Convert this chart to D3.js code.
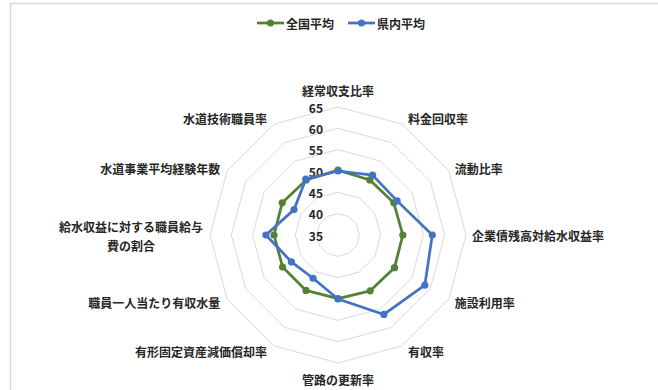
<!DOCTYPE html>
<html>
<head>
<meta charset="utf-8">
<script src="https://cdn.jsdelivr.net/npm/d3@7"></script>
<style>
  html, body { margin: 0; padding: 0; background: #fff; }
  svg { display: block; }
  text { font-family: "Noto Sans CJK JP", "Noto Sans", sans-serif; }
</style>
</head>
<body>
<svg id="chart" width="658" height="390"></svg>
<script>
// ---- data ----
const categories = [
  "経常収支比率", "料金回収率", "流動比率", "企業債残高対給水収益率",
  "施設利用率", "有収率", "管路の更新率", "有形固定資産減価償却率",
  "職員一人当たり有収水量", "給水収益に対する職員給与費の割合",
  "水道事業平均経験年数", "水道技術職員率"
];
const categoryLines = [
  ["経常収支比率"], ["料金回収率"], ["流動比率"], ["企業債残高対給水収益率"],
  ["施設利用率"], ["有収率"], ["管路の更新率"], ["有形固定資産減価償却率"],
  ["職員一人当たり有収水量"], ["給水収益に対する職員給与", "費の割合"],
  ["水道事業平均経験年数"], ["水道技術職員率"]
];
const seriesNames = ["全国平均", "県内平均"];
const nationalAvg = [50.2, 49.9, 50.1, 50.2, 50.3, 50.1, 49.9, 50.0, 50.0, 50.0, 50.1, 49.9];
const prefAvg     = [50.0, 51.2, 51.0, 57.1, 58.5, 56.5, 50.0, 46.7, 47.6, 51.9, 46.9, 50.1];
const tickValues  = [35, 40, 45, 50, 55, 60, 65];
const seriesColors = ["#548235", "#4472C4"];

// ---- layout ----
const svg = d3.select("#chart");
const cx = 338, cy = 235, R = 128;
const rScale = d3.scaleLinear().domain([35, 65]).range([0, R]);
const n = categories.length;
const angle = i => i * 2 * Math.PI / n;

// chart border
svg.append("rect")
  .attr("x", 10.5).attr("y", 3.5)
  .attr("width", 700).attr("height", 400)
  .attr("fill", "none").attr("stroke", "#d9d9d9").attr("stroke-width", 1.5);

const g = svg.append("g").attr("transform", `translate(${cx},${cy})`);

// grid rings
const ringLine = d3.lineRadial()
  .angle((d, i) => angle(i))
  .radius(d => rScale(d))
  .curve(d3.curveLinearClosed);

tickValues.filter(t => t > 35).forEach(t => {
  g.append("path")
    .attr("d", ringLine(categories.map(() => t)))
    .attr("fill", "none")
    .attr("stroke", "#d9d9d9")
    .attr("stroke-width", 1);
});

// tick labels
g.selectAll(".tick")
  .data(tickValues)
  .join("text")
  .attr("x", -15)
  .attr("y", d => -rScale(d))
  .attr("text-anchor", "end")
  .attr("dominant-baseline", "central")
  .attr("font-size", 12)
  .attr("font-weight", "bold")
  .attr("fill", "#262626")
  .text(d => d);

// category labels
categories.forEach((c, i) => {
  const a = angle(i);
  const s = Math.sin(a), co = Math.cos(a);
  const vx = R * s, vy = -R * co;
  const lines = categoryLines[i];
  let x, y, anchor;
  if (Math.abs(s) < 1e-6) {
    anchor = "middle";
    x = vx;
    y = vy + (co > 0 ? -17 : 16);
  } else {
    anchor = s > 0 ? "start" : "end";
    x = vx + (s > 0 ? 6 : -7);
    y = vy - co * 6;
  }
  const t = g.append("text")
    .attr("font-size", 12)
    .attr("font-weight", "bold")
    .attr("fill", "#262626")
    .attr("dominant-baseline", "central");
  if (lines.length === 1) {
    t.attr("x", x).attr("y", y).attr("text-anchor", anchor).text(lines[0]);
  } else {
    // multi-line: block right-aligned, lines centered within block
    const lh = 19;
    const tmp = g.append("text").attr("font-size", 12).attr("font-weight", "bold").text(lines[0]);
    const w = tmp.node().getComputedTextLength();
    tmp.remove();
    const mid = anchor === "end" ? x - w / 2 : x + w / 2;
    t.attr("text-anchor", "middle");
    lines.forEach((ln, k) => {
      t.append("tspan")
        .attr("x", mid)
        .attr("y", y + (k - (lines.length - 1) / 2) * lh)
        .text(ln);
    });
  }
});

// series
const seriesLine = d3.lineRadial()
  .angle((d, i) => angle(i))
  .radius(d => rScale(d))
  .curve(d3.curveLinearClosed);

[nationalAvg, prefAvg].forEach((vals, si) => {
  const sg = g.append("g");
  sg.append("path")
    .attr("d", seriesLine(vals))
    .attr("fill", "none")
    .attr("stroke", seriesColors[si])
    .attr("stroke-width", 2.75)
    .attr("stroke-linejoin", "round");
  sg.selectAll("circle")
    .data(vals)
    .join("circle")
    .attr("cx", (d, i) => rScale(d) * Math.sin(angle(i)))
    .attr("cy", (d, i) => -rScale(d) * Math.cos(angle(i)))
    .attr("r", 3.6)
    .attr("fill", seriesColors[si]);
});

// legend
const legend = svg.append("g").attr("transform", "translate(0,23)");
const legendX = [257, 348];
seriesNames.forEach((name, i) => {
  const lg = legend.append("g").attr("transform", `translate(${legendX[i]},0)`);
  lg.append("line").attr("x1", 0).attr("x2", 27).attr("y1", 0).attr("y2", 0)
    .attr("stroke", seriesColors[i]).attr("stroke-width", 2.75);
  lg.append("circle").attr("cx", 13.5).attr("cy", 0).attr("r", 3.6).attr("fill", seriesColors[i]);
  lg.append("text").attr("x", 29).attr("y", 0)
    .attr("dominant-baseline", "central")
    .attr("font-size", 12).attr("font-weight", "bold").attr("fill", "#262626")
    .text(name);
});
</script>
</body>
</html>
